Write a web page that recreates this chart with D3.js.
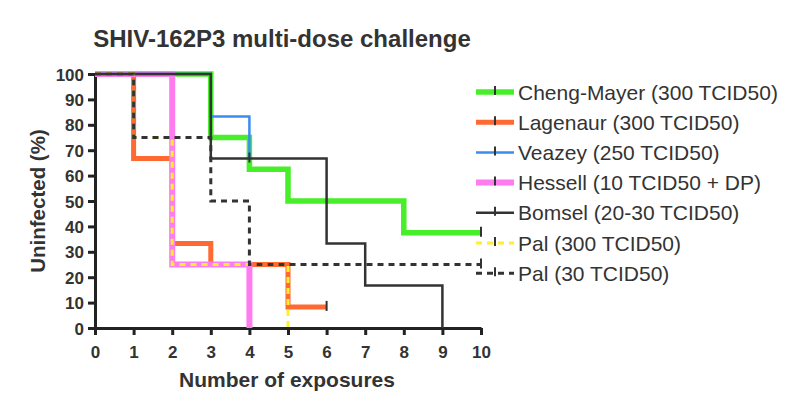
<!DOCTYPE html>
<html>
<head>
<meta charset="utf-8">
<script src="https://cdn.jsdelivr.net/npm/d3@7"></script>
<style>
  body { margin: 0; background: #fff; }
  text { font-family: "Liberation Sans", Arial, sans-serif; }
</style>
</head>
<body>
<svg id="chart"></svg>
<script>
// Data: step points (exposure, % uninfected)
const seriesNames = ["Cheng-Mayer (300 TCID50)", "Lagenaur (300 TCID50)", "Veazey (250 TCID50)",
  "Hessell (10 TCID50 + DP)", "Bomsel (20-30 TCID50)", "Pal (300 TCID50)", "Pal (30 TCID50)"];
const chengMayer = [[0, 100], [3, 75], [4, 62.5], [5, 50], [8, 37.5], [10, 37.5]];
const lagenaur = [[0, 100], [1, 66.7], [2, 33.3], [3, 25], [5, 8.3], [6, 8.3]];
const veazey = [[0, 100], [3, 83.3], [4, 66.7]];
const hessell = [[0, 100], [2, 25], [4, 0]];
const bomsel = [[0, 100], [3, 66.7], [6, 33.3], [7, 16.7], [9, 0]];
const pal300 = [[0, 100], [1, 75], [2, 25], [5, 0]];
const pal30 = [[0, 100], [1, 75], [3, 50], [4, 25], [10, 25]];
// censored marks: [series, exposure, value]
const censorPoints = [[0, 10, 37.5], [1, 6, 8.3], [2, 4, 66.7], [6, 10, 25]];
const xTicks = d3.range(0, 11);
const yTicks = d3.range(0, 101, 10);

const styles = [
  { color: "#47ee2a", width: 5.5, dash: null },
  { color: "#ff6a33", width: 5, dash: null },
  { color: "#3a8cf0", width: 2.5, dash: null },
  { color: "#ff7cf0", width: 6, dash: null },
  { color: "#333333", width: 2.5, dash: null },
  { color: "#fff02a", width: 3, dash: "6,5" },
  { color: "#333333", width: 3, dash: "6,5" }
];
const allData = [chengMayer, lagenaur, veazey, hessell, bomsel, pal300, pal30];
const drawOrder = [0, 1, 3, 2, 4, 5, 6];

const W = 800, H = 413;
const margin = { left: 95, top: 74, right: 319, bottom: 85 };
const svg = d3.select("#chart").attr("width", W).attr("height", H);

const x = d3.scaleLinear().domain([0, 10]).range([margin.left, W - margin.right]);
const y = d3.scaleLinear().domain([0, 100]).range([H - margin.bottom, margin.top]);

// Title
svg.append("text")
  .attr("x", 282).attr("y", 47)
  .attr("text-anchor", "middle")
  .attr("font-size", 24).attr("font-weight", "bold").attr("fill", "#333")
  .text("SHIV-162P3 multi-dose challenge");

// Axes
const xAxis = svg.append("g")
  .attr("transform", `translate(0,${y(0)})`)
  .call(d3.axisBottom(x).tickValues(xTicks).tickSize(7).tickSizeOuter(0));
const yAxis = svg.append("g")
  .attr("transform", `translate(${x(0)},0)`)
  .call(d3.axisLeft(y).tickValues(yTicks).tickSize(7).tickSizeOuter(0));
[xAxis, yAxis].forEach(a => {
  a.select(".domain").attr("stroke", "#222").attr("stroke-width", 3);
  a.selectAll(".tick line").attr("stroke", "#222").attr("stroke-width", 3);
  a.selectAll(".tick text").attr("font-size", 17).attr("font-weight", "bold").attr("fill", "#333")
    .attr("font-family", "Liberation Sans, Arial, sans-serif");
});
xAxis.selectAll(".tick text").attr("y", 30).attr("dy", null);
yAxis.selectAll(".tick text").attr("x", -11).attr("dy", "0.36em");

// Axis labels
svg.append("text")
  .attr("x", 287).attr("y", 387)
  .attr("text-anchor", "middle")
  .attr("font-size", 21).attr("font-weight", "bold").attr("fill", "#333")
  .text("Number of exposures");
svg.append("text")
  .attr("transform", `translate(45,${y(50)}) rotate(-90)`)
  .attr("text-anchor", "middle")
  .attr("font-size", 20.5).attr("font-weight", "bold").attr("fill", "#333")
  .text("Uninfected (%)");

// Step lines
const line = d3.line()
  .x(d => x(d[0]))
  .y(d => y(d[1]))
  .curve(d3.curveStepAfter);

drawOrder.forEach(i => {
  svg.append("path")
    .datum(allData[i])
    .attr("d", line)
    .attr("fill", "none")
    .attr("stroke", styles[i].color)
    .attr("stroke-width", styles[i].width)
    .attr("stroke-dasharray", styles[i].dash);
});

// Censor ticks
svg.selectAll(".censor")
  .data(censorPoints)
  .enter()
  .append("line")
  .attr("class", "censor")
  .attr("x1", d => x(d[1])).attr("x2", d => x(d[1]))
  .attr("y1", d => y(d[2]) - 6).attr("y2", d => y(d[2]) + 4)
  .attr("stroke", "#333").attr("stroke-width", 2);

// Legend
const legend = svg.append("g").attr("transform", "translate(476,92)");
seriesNames.forEach((name, i) => {
  const row = legend.append("g").attr("transform", `translate(0,${i * 30.2})`);
  row.append("line")
    .attr("x1", 0).attr("x2", 38).attr("y1", 0).attr("y2", 0)
    .attr("stroke", styles[i].color)
    .attr("stroke-width", styles[i].width)
    .attr("stroke-dasharray", styles[i].dash);
  row.append("line")
    .attr("x1", 19).attr("x2", 19).attr("y1", -6).attr("y2", 3)
    .attr("stroke", "#333").attr("stroke-width", 2);
  row.append("text")
    .attr("x", 42).attr("y", 0)
    .attr("dy", "0.36em")
    .attr("font-size", 21).attr("fill", "#333")
    .text(name);
});
</script>
</body>
</html>
